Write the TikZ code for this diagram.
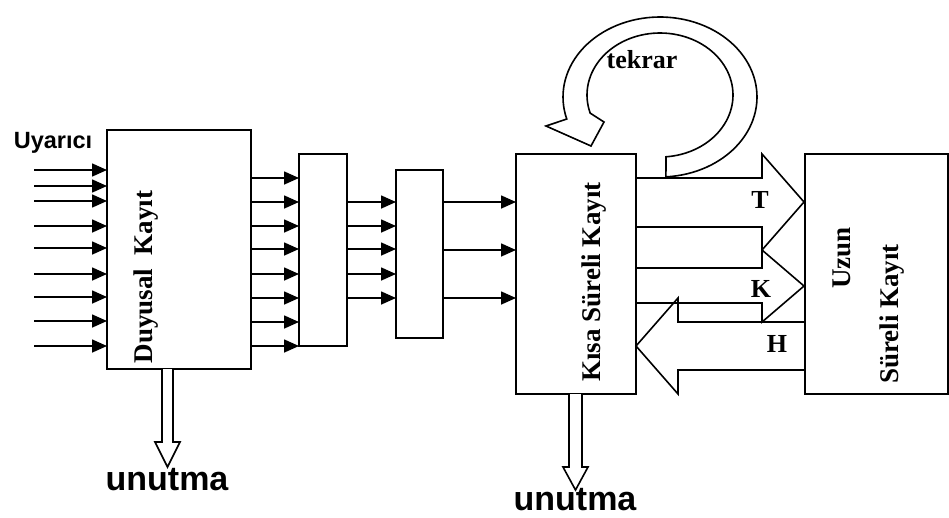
\documentclass[tikz,border=0pt]{standalone}
\usepackage{fontspec}
\setmainfont{Liberation Serif}
\newfontfamily\arialfont{Liberation Sans}
\usetikzlibrary{arrows.meta}

\begin{document}
\begin{tikzpicture}[x=1pt,y=-1pt,
  box/.style={draw, line width=1.6pt, rectangle, inner sep=0pt, outer sep=0pt},
  sig/.style={line width=1.6pt, -{Triangle[length=15pt,width=13pt]}},
  fat/.style={draw, line width=1.6pt, line join=miter},
  lbl/.style={font=\fontsize{26}{30}\selectfont\bfseries, inner sep=0pt, anchor=base},
  vlbl/.style={font=\fontsize{27}{31}\selectfont\bfseries, inner sep=0pt, rotate=90, anchor=base},
  sanslbl/.style={font=\arialfont\fontsize{#1}{#1}\selectfont\bfseries, inner sep=0pt, anchor=base}
]
% canvas
\fill[white] (0,0) rectangle (949,517);
\useasboundingbox (0,0) rectangle (949,517);

% stores
\node[box, minimum width=144pt, minimum height=239pt] (duy)  at (179,249.5) {};
\node[box, minimum width=48pt,  minimum height=192pt] (b2)   at (323,250) {};
\node[box, minimum width=47pt,  minimum height=168pt] (b3)   at (419.5,254) {};
\node[box, minimum width=120pt, minimum height=240pt] (ksk)  at (576,274) {};
\node[box, minimum width=143pt, minimum height=240pt] (uzun) at (876.5,274) {};

% store labels
\node[vlbl] (duyL) at (152,277) {Duyusal\ \ Kayıt};
\node[vlbl] (kskL) at (600,282) {Kısa Süreli Kayıt};
\node[vlbl] (uzL1) at (850,258) {Uzun};
\node[vlbl] (uzL2) at (898,314) {Süreli Kayıt};

% stimulus inputs
\node[sanslbl=23.5] (uyL) at (53,148) {Uyarıcı};
\foreach \y [count=\i] in {170,186,201,226,248,274,297,321,346}{
  \coordinate (in\i) at (34,\y);
  \draw[sig] (in\i) -- (duy.west |- in\i);
}

% sensory register to first filter
\foreach \y [count=\i] in {178,202,226,249,274,298,322,346}{
  \coordinate (ra\i) at (0,\y);
  \draw[sig] (duy.east |- ra\i) -- (b2.west |- ra\i);
}
% first filter to second filter
\foreach \y [count=\i] in {202,226,249,274,298}{
  \coordinate (rb\i) at (0,\y);
  \draw[sig] (b2.east |- rb\i) -- (b3.west |- rb\i);
}
% second filter to short-term store
\foreach \y [count=\i] in {202,250,298}{
  \coordinate (rc\i) at (0,\y);
  \draw[sig] (b3.east |- rc\i) -- (ksk.west |- rc\i);
}

% transfer arrows between the stores
\draw[fat] (636,178) -- (762,178) -- (762,154) -- (804,202) -- (762,250) -- (762,227) -- (636,227);
\draw[fat] (636,268) -- (762,268) -- (762,250) -- (804,286) -- (762,322) -- (762,303) -- (636,303);
\draw[fat] (805,322) -- (678,322) -- (678,298) -- (636,346) -- (678,394) -- (678,370) -- (805,370);
\node[lbl] (tL) at (760,208) {T};
\node[lbl] (kL) at (761,297) {K};
\node[lbl] (hL) at (777,352) {H};

% rehearsal loop
\draw[fat, fill=white]
  plot[domain=86.5:-196, samples=90] ({660+97*cos(\x)},{97+80*sin(\x)})
  -- (546,126) -- (591,146) -- (604,122)
  -- plot[domain=-197:85.3, samples=90] ({660+73*cos(\x)},{95+62*sin(\x)})
  -- cycle;
\node[lbl] (tekL) at (642,68) {tekrar};

% forgetting
\draw[fat, fill=white] (162,369) -- (162,442) -- (155,442) -- (167.5,467) -- (180,442) -- (173,442) -- (173,369);
\draw[fat, fill=white] (569,394) -- (569,467) -- (563,467) -- (575.5,490) -- (588,467) -- (582,467) -- (582,394);
\node[sanslbl=34] (un1) at (167,490) {unutma};
\node[sanslbl=34] (un2) at (575,510.5) {unutma};
\end{tikzpicture}
\end{document}
